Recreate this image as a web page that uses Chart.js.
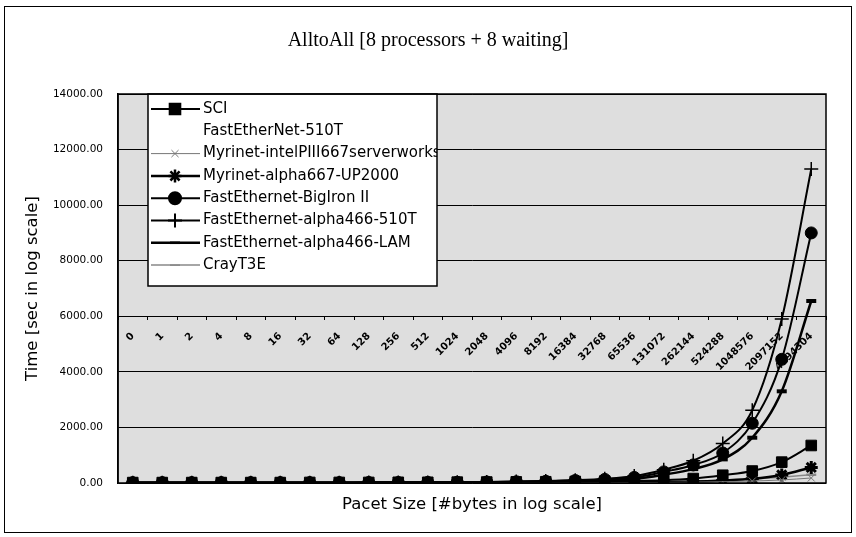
<!DOCTYPE html>
<html>
<head>
<meta charset="utf-8">
<script src="https://cdn.jsdelivr.net/npm/chart.js@4"></script>
<style>
  html, body { margin: 0; padding: 0; background: #fff; }
  #wrap { width: 856px; height: 537px; }
</style>
</head>
<body>
<div id="wrap"><canvas id="allToAllChart" width="856" height="537"></canvas></div>
<script>
const packetSizes = ['0', '1', '2', '4', '8', '16', '32', '64', '128', '256', '512', '1024', '2048', '4096',
  '8192', '16384', '32768', '65536', '131072', '262144', '524288', '1048576', '2097152', '4194304'];

const sciTimes = [15, 15, 15, 15, 15, 15, 20, 20, 20, 25, 25, 30, 35, 40, 45, 55, 65, 80, 100, 160, 280, 430, 750, 1350];
const fastEtherNet510TTimes = [null, null, null, null, null, null, null, null, null, null, null, null,
  null, null, null, null, null, null, null, null, null, null, null, null];
const myrinetIntelTimes = [5, 5, 5, 5, 5, 5, 5, 5, 5, 5, 5, 5, 5, 5, 5, 10, 10, 15, 20, 30, 45, 70, 110, 180];
const myrinetAlphaTimes = [5, 5, 5, 5, 5, 5, 5, 5, 5, 5, 5, 5, 10, 10, 10, 15, 20, 25, 35, 50, 90, 150, 290, 560];
const bigIronTimes = [10, 10, 10, 10, 10, 10, 10, 10, 15, 15, 20, 25, 35, 45, 60, 90, 130, 200, 400, 650, 1080, 2150, 4450, 9000];
const alpha510TTimes = [10, 10, 10, 10, 10, 10, 10, 10, 15, 15, 20, 25, 35, 50, 70, 100, 150, 250, 480, 800, 1420, 2620, 5900, 11300];
const alphaLamTimes = [10, 10, 10, 10, 10, 10, 10, 10, 15, 15, 20, 25, 30, 40, 55, 80, 110, 150, 300, 500, 850, 1630, 3300, 6550];
const crayT3ETimes = [5, 5, 5, 5, 5, 5, 5, 5, 5, 5, 5, 5, 10, 10, 10, 15, 20, 25, 40, 60, 90, 140, 210, 300];

function series(label, data, color, width, style, radius, markerWidth) {
  return {
    label: label,
    data: data,
    xAxisID: 'x',
    yAxisID: 'y',
    borderColor: color,
    backgroundColor: color,
    borderWidth: width,
    pointStyle: style,
    pointRadius: radius,
    pointBorderWidth: markerWidth,
    pointBackgroundColor: color,
    pointBorderColor: color,
    cubicInterpolationMode: 'monotone',
    fill: false,
    showLine: width > 0
  };
}

const datasets = [
  series('SCI', sciTimes, '#000', 2, 'rect', 7.5, 1),
  series('FastEtherNet-510T', fastEtherNet510TTimes, '#000', 0, 'circle', 0, 0),
  series('Myrinet-intelPIII667serverworks', myrinetIntelTimes, '#777', 1, 'crossRot', 5, 1),
  series('Myrinet-alpha667-UP2000', myrinetAlphaTimes, '#000', 2.5, 'star', 6.5, 3),
  series('FastEthernet-BigIron II', bigIronTimes, '#000', 2, 'circle', 6, 1),
  series('FastEthernet-alpha466-510T', alpha510TTimes, '#000', 2, 'cross', 7, 1.5),
  series('FastEthernet-alpha466-LAM', alphaLamTimes, '#000', 2.5, 'line', 5, 4),
  series('CrayT3E', crayT3ETimes, '#888', 1.5, 'line', 5, 2.5)
];

// white page, outer frame and grey plot background
const framePlugin = {
  id: 'frame',
  beforeDraw(chart) {
    const ctx = chart.ctx;
    const a = chart.chartArea;
    ctx.save();
    ctx.fillStyle = '#fff';
    ctx.fillRect(0, 0, chart.width, chart.height);
    ctx.strokeStyle = '#000';
    ctx.lineWidth = 1;
    ctx.strokeRect(4.5, 6.5, 847, 526);
    ctx.fillStyle = '#dedede';
    ctx.fillRect(a.left, a.top, a.right - a.left, a.bottom - a.top);
    ctx.restore();
  },
  afterDraw(chart) {
    const ctx = chart.ctx;
    const a = chart.chartArea;
    ctx.save();
    ctx.strokeStyle = '#000';
    ctx.lineWidth = 1.5;
    ctx.strokeRect(a.left, a.top, a.right - a.left, a.bottom - a.top);
    ctx.restore();
  }
};

// legend box drawn inside the plot, top left
const boxLegend = {
  id: 'boxLegend',
  afterDatasetsDraw(chart) {
    const ctx = chart.ctx;
    const left = 148, top = 94, right = 437, bottom = 286;
    const rowH = 22.3;
    ctx.save();
    ctx.fillStyle = '#fff';
    ctx.fillRect(left, top, right - left, bottom - top);
    ctx.strokeStyle = '#000';
    ctx.lineWidth = 1.5;
    ctx.strokeRect(left, top, right - left, bottom - top);
    ctx.beginPath();
    ctx.rect(left, top, right - left, bottom - top);
    ctx.clip();
    chart.data.datasets.forEach((ds, i) => {
      const y = top + 15 + i * rowH;
      if (ds.borderWidth > 0) {
        ctx.strokeStyle = ds.borderColor;
        ctx.lineWidth = ds.borderWidth;
        ctx.beginPath();
        ctx.moveTo(left + 3, y);
        ctx.lineTo(left + 52, y);
        ctx.stroke();
      }
      if (ds.pointRadius > 0) {
        ctx.fillStyle = ds.pointBackgroundColor;
        ctx.strokeStyle = ds.pointBorderColor;
        Chart.helpers.drawPoint(ctx, {
          pointStyle: ds.pointStyle,
          radius: ds.pointRadius,
          rotation: 0,
          borderWidth: ds.pointBorderWidth
        }, left + 27, y);
      }
      ctx.fillStyle = '#000';
      ctx.font = '15px "DejaVu Sans"';
      ctx.textBaseline = 'middle';
      ctx.textAlign = 'left';
      ctx.fillText(ds.label, left + 55, y);
    });
    ctx.restore();
  }
};

new Chart(document.getElementById('allToAllChart'), {
  type: 'line',
  data: {
    labels: packetSizes,
    datasets: datasets
  },
  options: {
    responsive: false,
    devicePixelRatio: 1,
    animation: false,
    layout: { padding: 0 },
    plugins: {
      legend: { display: false },
      tooltip: { enabled: false },
      title: {
        display: true,
        text: 'AlltoAll [8 processors + 8 waiting]',
        color: '#000',
        font: { family: 'Liberation Serif', size: 20, weight: 'normal' },
        padding: { top: 29, bottom: 41 }
      }
    },
    scales: {
      x: {
        type: 'category',
        position: { y: 6000 },
        offset: true,
        border: { display: false },
        grid: { drawOnChartArea: false, color: '#000', tickLength: 4, offset: true },
        ticks: {
          autoSkip: false,
          minRotation: 45,
          maxRotation: 45,
          padding: 10,
          color: '#000',
          font: { family: 'DejaVu Sans', size: 10, weight: 'bold' }
        },
        afterFit: s => { s.height = 0; }
      },
      xTitle: {
        type: 'category',
        axis: 'x',
        position: 'bottom',
        labels: packetSizes,
        offset: true,
        border: { display: false },
        grid: { display: false },
        ticks: { display: false },
        title: {
          display: true,
          text: 'Pacet Size [#bytes in log scale]',
          color: '#000',
          font: { family: 'DejaVu Sans', size: 16.5 },
          padding: { top: 0, bottom: 22 }
        },
        afterFit: s => { s.height = 54; }
      },
      y: {
        min: 0,
        max: 14000,
        border: { display: true, color: '#000', width: 1.5 },
        grid: { color: '#000', lineWidth: 1, drawTicks: false },
        ticks: {
          stepSize: 2000,
          padding: 15,
          color: '#000',
          font: { family: 'DejaVu Sans', size: 10.5 },
          callback: v => v.toFixed(2)
        },
        title: {
          display: true,
          text: 'Time [sec in log scale]',
          color: '#000',
          font: { family: 'DejaVu Sans', size: 16.5 },
          padding: { top: 23, bottom: 0 }
        },
        afterFit: s => { s.width = 118; }
      },
      ySpacer: {
        axis: 'y',
        position: 'right',
        border: { display: false },
        grid: { display: false },
        ticks: { display: false },
        afterFit: s => { s.width = 30; }
      }
    }
  },
  plugins: [framePlugin, boxLegend]
});
</script>
</body>
</html>
